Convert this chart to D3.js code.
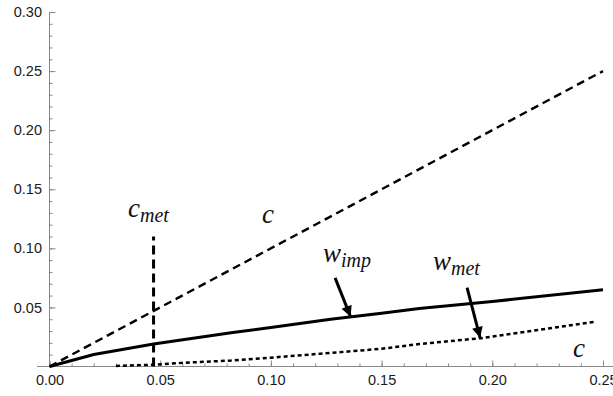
<!DOCTYPE html>
<html>
<head>
<meta charset="utf-8">
<script src="https://cdn.jsdelivr.net/npm/d3@7"></script>
<style>
  body { margin: 0; background: #fff; }
  .lbl { font-family: "Liberation Serif", "Times New Roman", serif; font-style: italic; fill: #111; }
</style>
</head>
<body>
<svg id="plot" width="613" height="396"></svg>
<script>
// data
var xTicks = [0, 0.05, 0.10, 0.15, 0.20, 0.25];
var yTicks = [0, 0.05, 0.10, 0.15, 0.20, 0.25, 0.30];
var diagC = [0, 0.25];                       // c = c
var wImpC = [0, 0.02, 0.047, 0.082, 0.10, 0.127, 0.15, 0.167, 0.20, 0.25];
var wImpV = [0, 0.0102, 0.019, 0.0285, 0.033, 0.040, 0.045, 0.049, 0.055, 0.065];
var wMetC = [0.030, 0.047, 0.063, 0.082, 0.10, 0.127, 0.15, 0.167, 0.195, 0.247];
var wMetV = [0.0005, 0.0015, 0.0034, 0.005, 0.0075, 0.0115, 0.015, 0.019, 0.024, 0.038];
var cMet = 0.047, cMetTop = 0.11;
// arrows: [tail c, tail v, tip c, tip v]
var arrowImp = [0.129, 0.075, 0.136, 0.042];
var arrowMet = [0.1886, 0.0667, 0.1945, 0.0243];

var svg = d3.select('#plot');
var x = d3.scaleLinear().domain([0, 0.25]).range([49.5, 603]);
var y = d3.scaleLinear().domain([0, 0.30]).range([366.5, 12]);

svg.append('defs').append('marker')
    .attr('id', 'head').attr('viewBox', '0 0 10 10')
    .attr('refX', 10).attr('refY', 5)
    .attr('markerWidth', 4).attr('markerHeight', 3.6)
    .attr('markerUnits', 'strokeWidth').attr('orient', 'auto')
    .append('path').attr('d', 'M0,0L10,5L0,10Z').attr('fill', '#000');

// axes: minor ticks in their own groups so the major call does not reuse them
var gxMinor = svg.append('g').attr('transform', 'translate(0,' + y(0) + ')');
gxMinor.call(d3.axisBottom(x).tickValues(d3.range(0, 26).map(function(i){ return i / 100; })).tickSize(-3).tickFormat(''));
var gx = svg.append('g').attr('transform', 'translate(0,' + y(0) + ')');
gx.call(d3.axisBottom(x).tickValues(xTicks).tickSize(-6).tickPadding(8).tickFormat(d3.format('.2f')));
svg.append('line').attr('x1', 37).attr('x2', 613).attr('y1', y(0)).attr('y2', y(0)).attr('stroke', '#888');

var gyMinor = svg.append('g').attr('transform', 'translate(' + x(0) + ',0)');
gyMinor.call(d3.axisLeft(y).tickValues(d3.range(0, 31).map(function(i){ return i / 100; })).tickSize(-3).tickFormat(''));
var gy = svg.append('g').attr('transform', 'translate(' + x(0) + ',0)');
gy.call(d3.axisLeft(y).tickValues(yTicks.filter(function(d){ return d > 0; })).tickSize(-6).tickPadding(7.5).tickFormat(d3.format('.2f')));
svg.append('line').attr('x1', x(0)).attr('x2', x(0)).attr('y1', y(0.30)).attr('y2', y(0)).attr('stroke', '#888');

svg.selectAll('.domain').remove();
svg.selectAll('.tick line').attr('stroke', '#888');
[gx, gy].forEach(function(g){
  g.attr('font-size', 14.5).attr('font-family', '"Liberation Sans", Arial, sans-serif');
  g.selectAll('.tick text').attr('fill', '#1a1a1a');
});

var line = d3.line().x(function(d){ return x(d[0]); }).y(function(d){ return y(d[1]); });

// c diagonal
svg.append('path').datum(diagC.map(function(c){ return [c, c]; }))
    .attr('d', line).attr('fill', 'none').attr('stroke', '#000')
    .attr('stroke-width', 2.4).attr('stroke-dasharray', '8,5');

// c_met vertical
svg.append('path').datum([[cMet, 0], [cMet, cMetTop]])
    .attr('d', line).attr('fill', 'none').attr('stroke', '#000')
    .attr('stroke-width', 3).attr('stroke-dasharray', '9,5');

// w_imp
svg.append('path').datum(wImpC.map(function(c, i){ return [c, wImpV[i]]; }))
    .attr('d', line).attr('fill', 'none').attr('stroke', '#000').attr('stroke-width', 3);

// w_met
svg.append('path').datum(wMetC.map(function(c, i){ return [c, wMetV[i]]; }))
    .attr('d', line).attr('fill', 'none').attr('stroke', '#000')
    .attr('stroke-width', 2.5).attr('stroke-dasharray', '4,3');

// arrows
[arrowImp, arrowMet].forEach(function(a){
  svg.append('line')
    .attr('x1', x(a[0])).attr('y1', y(a[1]))
    .attr('x2', x(a[2])).attr('y2', y(a[3]))
    .attr('stroke', '#000').attr('stroke-width', 3)
    .attr('marker-end', 'url(#head)');
});

// labels
function label(xp, yp, main, sub) {
  var t = svg.append('text').attr('class', 'lbl').attr('x', xp).attr('y', yp);
  t.append('tspan').attr('font-size', 27).text(main);
  if (sub) t.append('tspan').attr('font-size', 20).attr('dy', 5).text(sub);
}
label(128, 217, 'c', 'met');
label(262, 223, 'c');
label(323, 262, 'w', 'imp');
label(433, 270, 'w', 'met');
label(573, 357, 'c');
</script>
</body>
</html>
